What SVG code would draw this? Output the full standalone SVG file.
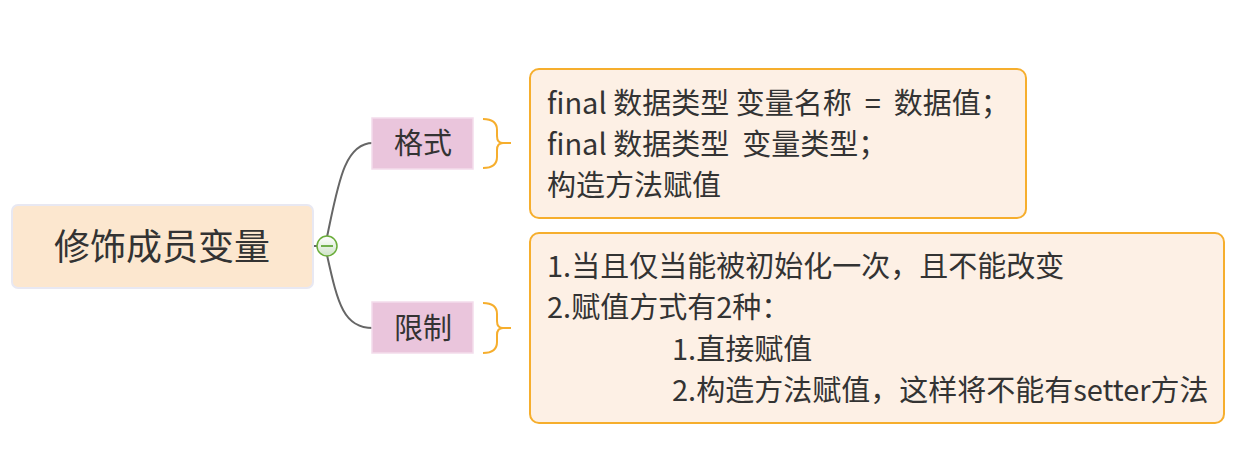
<svg xmlns="http://www.w3.org/2000/svg" width="1256" height="460" viewBox="0 0 1256 460">
<defs>
<linearGradient id="cg" x1="0" y1="0" x2="0" y2="1"><stop offset="0" stop-color="#ffffff"/><stop offset="1" stop-color="#cfe3c8"/></linearGradient>
<style>
text{font-family:"Noto Sans CJK SC","Microsoft YaHei",sans-serif;fill:#333;}
.root{fill:#fce7cf;stroke:#e8e8f2;stroke-width:2;}
.br{fill:#eac5dc;stroke:#f3dceb;stroke-width:1.5;}
.box{fill:#fdf0e5;stroke:#f6ae2d;stroke-width:2;}
.conn{fill:none;stroke:#666;stroke-width:2;}
.brace{fill:none;stroke:#f6ae2d;stroke-width:2;}
.t28{font-size:29px;}
</style>
</defs>
<rect width="1256" height="460" fill="#fff"/>
<g id="connectors">
<path class="conn" d="M313,246 L318,246"/>
<path class="conn" d="M327,237 C338,185 344,143 373,143"/>
<path class="conn" d="M327,255 C338,305 344,328 373,328"/>
<path class="brace" d="M483,119 Q497,119 497,130 L497,136 Q497,143 503,143 L511,143 M483,168 Q497,168 497,157 L497,150 Q497,143 503,143"/>
<path class="brace" d="M483,303 Q497,303 497,314 L497,321 Q497,328 503,328 L511,328 M483,353 Q497,353 497,342 L497,335 Q497,328 503,328"/>
</g>
<g id="root">
<rect class="root" x="12" y="205" width="301" height="83" rx="6"/>
<text x="162" y="260" font-size="36" text-anchor="middle">修饰成员变量</text>
</g>
<g id="toggle">
<circle cx="327" cy="246" r="10" fill="url(#cg)" stroke="#6aad3a" stroke-width="1.5"/>
<line x1="321" y1="246" x2="333" y2="246" stroke="#4a9a1a" stroke-width="1.5"/>
</g>
<g id="n-geshi">
<rect class="br" x="372" y="118" width="101" height="51"/>
<text class="t28" x="423" y="154" text-anchor="middle">格式</text>
</g>
<g id="n-xianzhi">
<rect class="br" x="372" y="302" width="101" height="51"/>
<text class="t28" x="423" y="339" text-anchor="middle">限制</text>
</g>
<g id="note-geshi">
<rect class="box" x="530" y="69" width="496" height="149" rx="9"/>
<text class="t28" x="547" y="114" xml:space="preserve">final 数据类型 变量名称  =  数据值；</text>
<text class="t28" x="547" y="155" xml:space="preserve">final 数据类型  变量类型；</text>
<text class="t28" x="547" y="196">构造方法赋值</text>
</g>
<g id="note-xianzhi">
<rect class="box" x="530" y="233" width="694" height="190" rx="9"/>
<text class="t28" x="547" y="277">1.当且仅当能被初始化一次，且不能改变</text>
<text class="t28" x="547" y="318">2.赋值方式有2种：</text>
<text class="t28" x="672" y="360">1.直接赋值</text>
<text class="t28" x="672" y="401">2.构造方法赋值，这样将不能有setter方法</text>
</g>
</svg>
